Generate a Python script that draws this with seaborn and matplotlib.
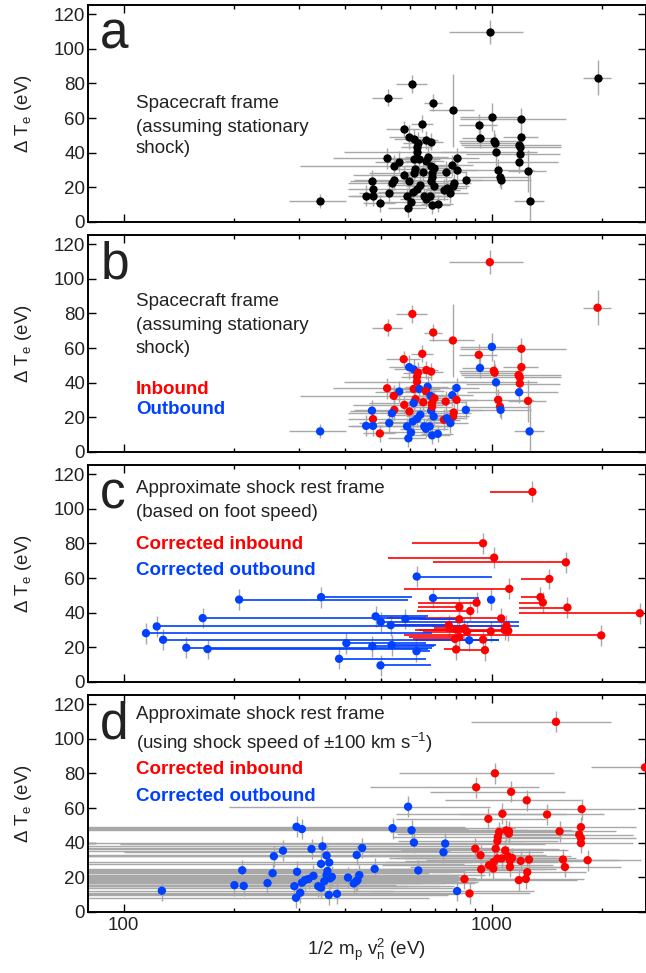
import numpy as np
import pandas as pd
import seaborn as sns
import matplotlib.pyplot as plt

RED = '#ff0000'
BLUE = '#0040ff'
GREY = '#a8a8a8'

# ---- spacecraft frame (panels a and b) ----
sc_energy = [989, 1941, 609, 522, 694, 785, 1002, 1205, 923, 648,
             577, 930, 1205, 597, 614, 1014, 1019, 1184, 1193, 631,
             665, 685, 627, 627, 1028, 1193, 520, 614, 636, 670,
             663, 803, 1188, 561, 542, 683, 782, 699, 621, 750,
             803, 1042, 1256, 579, 652, 689, 614, 544, 473, 851,
             1054, 1058, 598, 536, 685, 696, 789, 476, 640, 627,
             611, 742, 786, 756, 456, 476, 527, 589, 656, 663,
             773, 342, 1268, 497, 604, 689, 714, 594, 679, 689]
sc_dte = [109.6, 83.3, 79.7, 71.8, 69.0, 64.4, 60.7, 59.6, 56.1, 56.7,
          53.6, 48.5, 49.0, 49.0, 47.7, 46.9, 45.8, 44.4, 43.1, 45.8,
          47.3, 46.4, 43.5, 40.6, 40.2, 39.5, 36.8, 36.4, 36.4, 37.7,
          35.1, 37.0, 34.5, 34.9, 32.4, 32.4, 32.8, 31.0, 30.5, 29.1,
          30.1, 30.1, 29.5, 27.2, 28.7, 28.2, 28.2, 24.3, 23.9, 24.3,
          26.2, 24.3, 23.4, 22.4, 23.8, 20.5, 22.8, 19.0, 21.5, 19.2,
          17.6, 18.6, 20.5, 19.5, 15.1, 15.1, 16.7, 14.8, 14.8, 13.4,
          16.7, 11.9, 11.9, 10.7, 11.3, 9.6, 10.5, 7.9, 14.8, 26.2]
sc_energy_err = [225, 170, 60, 48, 40, 110, 180, 385, 110, 45,
                 60, 100, 130, 70, 70, 200, 200, 360, 350, 55,
                 50, 55, 60, 230, 300, 340, 150, 100, 90, 90,
                 80, 120, 330, 80, 240, 100, 110, 90, 80, 100,
                 110, 260, 150, 160, 80, 90, 150, 120, 60, 90,
                 220, 220, 100, 130, 120, 110, 90, 70, 120, 110,
                 120, 80, 80, 90, 50, 60, 90, 140, 120, 100,
                 90, 60, 120, 50, 100, 80, 70, 70, 80, 90]
sc_dte_err = [7, 10, 5, 5, 5, 21, 8, 6, 6, 5,
              5, 6, 6, 7, 6, 6, 5, 6, 6, 6,
              5, 5, 5, 5, 8, 6, 6, 5, 5, 6,
              5, 6, 6, 6, 6, 6, 6, 5, 5, 6,
              6, 6, 12, 5, 6, 5, 5, 6, 6, 5,
              6, 5, 6, 5, 6, 6, 5, 6, 5, 5,
              5, 6, 5, 5, 6, 6, 6, 5, 5, 5,
              6, 4, 16, 5, 5, 5, 5, 5, 5, 5]
sc_inbound = [1, 1, 1, 1, 1, 1, 0, 1, 1, 1,
              1, 0, 1, 0, 0, 1, 1, 1, 1, 1,
              1, 1, 1, 1, 0, 1, 1, 1, 0, 0,
              1, 0, 0, 0, 1, 0, 0, 1, 1, 1,
              1, 1, 1, 1, 1, 1, 0, 1, 0, 0,
              1, 0, 1, 0, 0, 0, 1, 1, 0, 0,
              0, 1, 1, 0, 0, 0, 0, 0, 0, 0,
              0, 0, 0, 1, 0, 0, 0, 0, 0, 1]

# ---- shock rest frame from foot speed (panel c) ----
foot_in_energy = [1291, 948, 1016, 1592, 1435, 1117, 1358, 1378, 910, 817,
                  1607, 875, 2529, 1062, 817, 765, 1097, 803, 843, 857,
                  1085, 1110, 995, 1986, 795, 818, 948, 801, 959]
foot_in_dte = [109.8, 80.1, 71.8, 69.1, 59.5, 53.8, 49.0, 45.9, 45.8, 43.3,
               43.0, 41.0, 39.7, 36.7, 36.2, 32.8, 32.5, 30.3, 31.0, 29.1,
               30.0, 29.6, 29.3, 26.9, 24.9, 25.9, 24.5, 18.8, 18.4]
foot_in_orig = [993, 608, 522, 693, 1205, 577, 1205, 1190, 632, 632,
                1190, 627, 1186, 519, 636, 542, 689, 621, 699, 652,
                636, 803, 750, 579, 610, 598, 620, 742, 786]
foot_out_energy = [626, 344, 693, 997, 206, 164, 484, 583, 500, 123,
                   532, 115, 128, 403, 148, 169, 474, 535, 869, 625,
                   385, 499]
foot_out_dte = [60.9, 49.0, 48.5, 47.5, 47.6, 36.9, 37.9, 36.4, 34.7, 32.1,
                32.8, 28.2, 24.4, 22.4, 19.8, 19.0, 20.7, 21.3, 24.1, 17.8,
                13.4, 9.6]
foot_out_orig = [1000, 608, 924, 1010, 594, 665, 670, 803, 1186, 1186,
                 782, 689, 1047, 665, 689, 673, 697, 705, 1050, 680,
                 662, 686]

# ---- shock rest frame with +-100 km/s (panel d) ----
v100_in_energy = [1496, 2612, 1021, 908, 1130, 1246, 1070, 980, 1415, 1757,
                  1048, 1040, 1037, 1096, 1114, 1114, 1530, 1749, 1730, 1749,
                  1749, 903, 1026, 933, 1089, 1107, 1137, 1122, 1037, 1065,
                  1013, 984, 1011, 1200, 1264, 1122, 937, 1563, 1582, 1824,
                  1250, 1239, 1186, 844, 871]
v100_in_dte = [109.8, 83.5, 80.1, 72.0, 69.4, 64.5, 56.7, 53.8, 56.3, 59.4,
               46.2, 43.3, 41.0, 47.1, 46.7, 45.2, 46.6, 49.0, 44.7, 42.7,
               39.8, 36.6, 36.6, 32.8, 35.6, 32.2, 31.2, 29.7, 30.9, 30.9,
               28.9, 27.0, 25.1, 29.5, 30.3, 26.0, 24.7, 30.3, 26.0, 29.9,
               23.0, 19.1, 18.4, 19.0, 10.7]
v100_in_err = [615, 750, 460, 440, 450, 500, 520, 430, 600, 700,
               520, 500, 480, 560, 580, 560, 650, 720, 700, 720,
               680, 480, 500, 470, 520, 540, 560, 540, 510, 520,
               500, 480, 490, 580, 600, 520, 460, 650, 660, 720,
               560, 540, 520, 420, 400]
v100_out_energy = [127, 200, 212, 210, 246, 254, 256, 271, 295, 305,
                   296, 291, 294, 302, 305, 311, 318, 328, 324, 347,
                   356, 362, 344, 358, 356, 351, 368, 364, 338, 344,
                   361, 380, 407, 422, 428, 432, 437, 430, 445, 481,
                   538, 593, 606, 615, 632, 740, 748, 806]
v100_out_dte = [12.3, 15.5, 15.1, 24.1, 16.7, 22.4, 32.2, 35.4, 49.2, 47.9,
                23.2, 14.9, 8.2, 11.1, 16.9, 18.4, 19.1, 20.9, 36.4, 37.9,
                32.6, 28.6, 27.8, 23.7, 21.3, 17.8, 20.3, 19.4, 14.9, 14.0,
                9.8, 10.5, 19.9, 16.5, 17.6, 18.4, 21.3, 32.9, 37.0, 24.9,
                48.4, 60.8, 47.2, 40.1, 24.0, 34.5, 39.5, 12.1]
v100_out_err = [416, 350, 380, 420, 400, 420, 450, 500, 550, 560,
                480, 430, 380, 420, 440, 460, 470, 480, 520, 540,
                510, 520, 500, 490, 470, 460, 480, 470, 450, 440,
                400, 420, 500, 480, 490, 500, 520, 560, 580, 560,
                620, 400, 640, 620, 600, 640, 650, 500]

sns.set_theme(style='ticks')
plt.rcParams['font.family'] = ['Liberation Sans', 'DejaVu Sans']
plt.rcParams['mathtext.fontset'] = 'custom'
plt.rcParams['mathtext.rm'] = 'Liberation Sans'
plt.rcParams['mathtext.it'] = 'Liberation Sans:italic'
plt.rcParams['axes.linewidth'] = 1.4

TXT = 13.5
DOT = 36
INK = '#222222'
W, H = 646, 973
LEFT, RIGHT = 88, 645.5


def make_axes(fig, top, bottom):
    return fig.add_axes([LEFT / W, 1 - bottom / H, (RIGHT - LEFT) / W, (bottom - top) / H])


def style(ax, letter, show_x=False):
    ax.set_xscale('log')
    ax.set_xlim(80, 2620)
    ax.set_ylim(0, 125.3)
    ax.set_yticks(range(0, 121, 20))
    ax.set_xticks([100, 1000])
    ax.set_xticks([200, 300, 400, 500, 600, 700, 800, 900, 2000], minor=True)
    ax.set_xticklabels(['100', '1000'] if show_x else ['', ''])
    ax.set_xticklabels([], minor=True)
    ax.tick_params(which='both', direction='in', top=True, right=True,
                   labelsize=TXT, colors='black', labelcolor=INK, width=1)
    ax.tick_params(which='major', length=6)
    ax.tick_params(which='minor', length=3)
    ax.tick_params(axis='y', pad=2)
    for s in ax.spines.values():
        s.set_color('black')
    ax.set_ylabel('Δ T$_{\\rm e}$ (eV)', fontsize=TXT, color=INK, labelpad=14)
    ax.set_xlabel('')
    ax.text(0.022, 0.80, letter, transform=ax.transAxes, fontsize=37,
            color=INK, ha='left', va='baseline')


def lo_err(x, err):
    x = np.asarray(x, float)
    err = np.asarray(err, float)
    return np.vstack([np.minimum(err, x - 1), err])


def text_lines(ax, lines):
    for y, s, color, weight in lines:
        ax.text(0.086, y, s, transform=ax.transAxes, fontsize=TXT, color=color,
                fontweight=weight, ha='left', va='center_baseline')


fig = plt.figure(figsize=(W / 100, H / 100), dpi=100)

sc = pd.DataFrame({'energy': sc_energy, 'dte': sc_dte,
                   'crossing': ['in' if i else 'out' for i in sc_inbound]})

# panel a
ax = make_axes(fig, 5, 222)
ax.errorbar(sc_energy, sc_dte, xerr=lo_err(sc_energy, sc_energy_err), yerr=sc_dte_err,
            fmt='none', ecolor=GREY, elinewidth=1, capsize=0, zorder=1)
sns.scatterplot(data=sc, x='energy', y='dte', color='black', s=DOT, linewidth=0,
                legend=False, ax=ax, zorder=3)
style(ax, 'a')
text_lines(ax, [(0.553, 'Spacecraft frame', INK, 'normal'),
                (0.447, '(assuming stationary', INK, 'normal'),
                (0.346, 'shock)', INK, 'normal')])

# panel b
ax = make_axes(fig, 235, 452)
ax.errorbar(sc_energy, sc_dte, xerr=lo_err(sc_energy, sc_energy_err), yerr=sc_dte_err,
            fmt='none', ecolor=GREY, elinewidth=1, capsize=0, zorder=1)
sns.scatterplot(data=sc, x='energy', y='dte', hue='crossing',
                palette={'in': RED, 'out': BLUE}, s=DOT, linewidth=0,
                legend=False, ax=ax, zorder=3)
style(ax, 'b')
text_lines(ax, [(0.705, 'Spacecraft frame', INK, 'normal'),
                (0.594, '(assuming stationary', INK, 'normal'),
                (0.484, 'shock)', INK, 'normal'),
                (0.295, 'Inbound', RED, 'bold'),
                (0.203, 'Outbound', BLUE, 'bold')])

# panel c
ax = make_axes(fig, 465, 682)
foot = pd.DataFrame({'energy': foot_in_energy + foot_out_energy,
                     'dte': foot_in_dte + foot_out_dte,
                     'crossing': ['in'] * len(foot_in_energy) + ['out'] * len(foot_out_energy)})
ax.vlines(foot['energy'], foot['dte'] - 6, foot['dte'] + 6, color=GREY, lw=1, zorder=1)
ax.hlines(foot_in_dte, foot_in_orig, foot_in_energy, color=RED, lw=1.2, zorder=2)
ax.hlines(foot_out_dte, foot_out_energy, foot_out_orig, color=BLUE, lw=1.2, zorder=2)
sns.scatterplot(data=foot, x='energy', y='dte', hue='crossing',
                palette={'in': RED, 'out': BLUE}, s=DOT, linewidth=0,
                legend=False, ax=ax, zorder=3)
style(ax, 'c')
text_lines(ax, [(0.90, 'Approximate shock rest frame', INK, 'normal'),
                (0.792, '(based on foot speed)', INK, 'normal'),
                (0.642, 'Corrected inbound', RED, 'bold'),
                (0.524, 'Corrected outbound', BLUE, 'bold')])

# panel d
ax = make_axes(fig, 695, 912)
v_energy = v100_in_energy + v100_out_energy
v_err = v100_in_err + v100_out_err
v100 = pd.DataFrame({'energy': v_energy, 'dte': v100_in_dte + v100_out_dte,
                     'crossing': ['in'] * len(v100_in_energy) + ['out'] * len(v100_out_energy)})
ax.errorbar(v100['energy'], v100['dte'], xerr=lo_err(v_energy, v_err), yerr=6,
            fmt='none', ecolor=GREY, elinewidth=1, capsize=0, zorder=1)
sns.scatterplot(data=v100, x='energy', y='dte', hue='crossing',
                palette={'in': RED, 'out': BLUE}, s=DOT, linewidth=0,
                legend=False, ax=ax, zorder=3)
style(ax, 'd', show_x=True)
ax.set_xlabel('1/2 m$_{\\rm p}$ v$_{\\rm n}^{2}$ (eV)', fontsize=TXT, color=INK, labelpad=2)
text_lines(ax, [(0.92, 'Approximate shock rest frame', INK, 'normal'),
                (0.793, '(using shock speed of ±100 km s$^{-1}$)', INK, 'normal'),
                (0.665, 'Corrected inbound', RED, 'bold'),
                (0.542, 'Corrected outbound', BLUE, 'bold')])

fig.savefig('out.png', dpi=100)
